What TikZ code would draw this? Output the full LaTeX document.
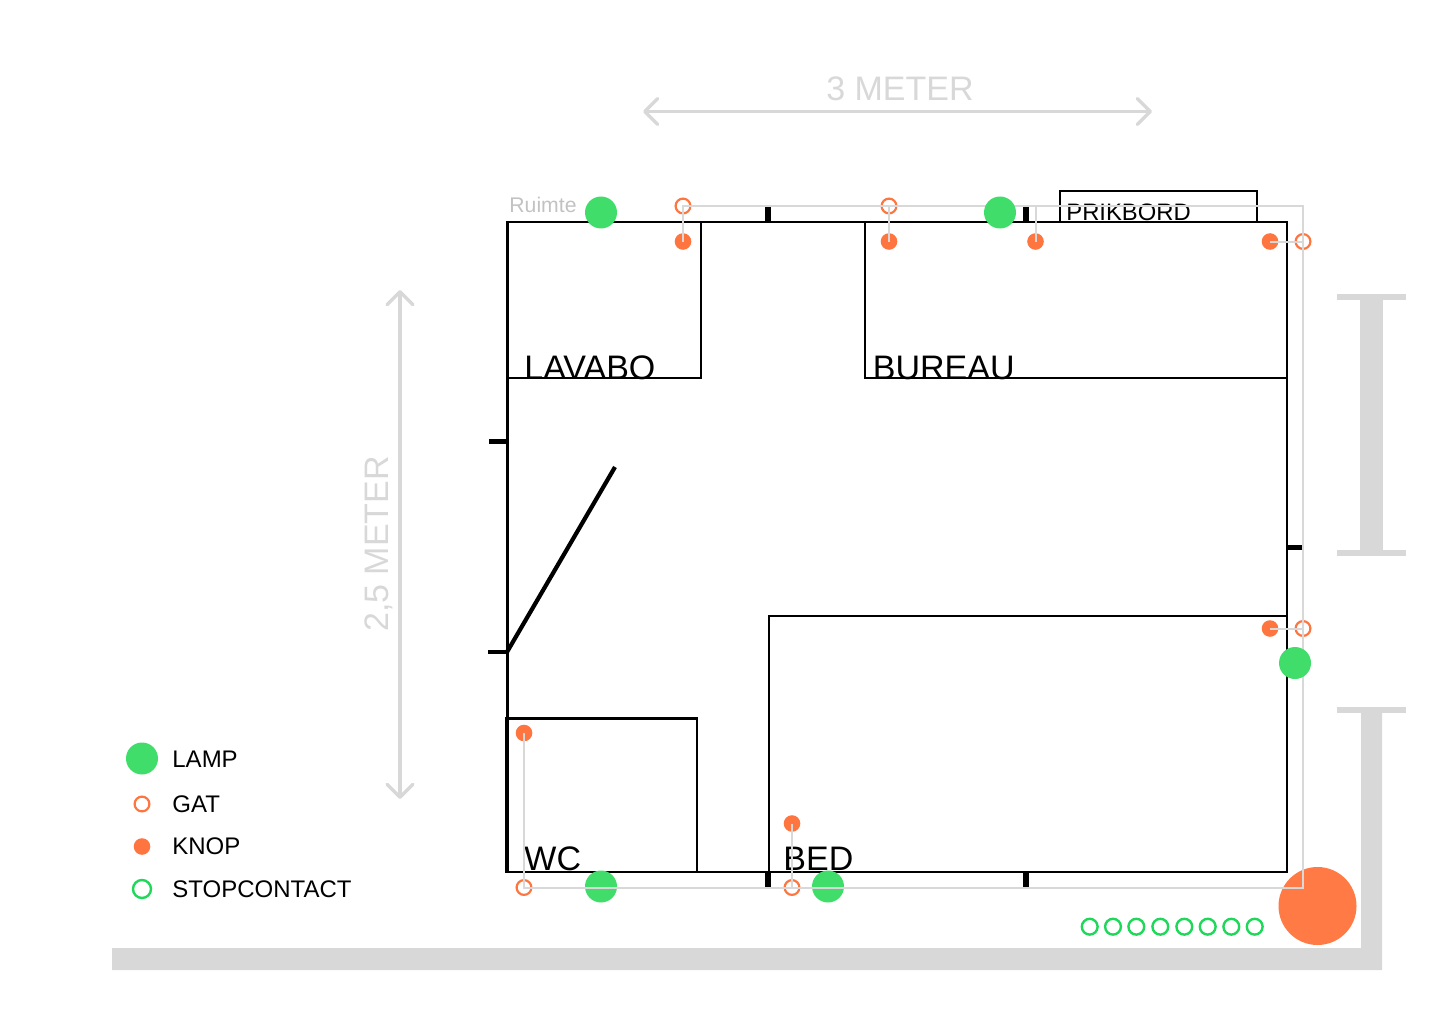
\documentclass[tikz,border=0pt]{standalone}
\usepackage{fontspec}
\setmainfont{Liberation Sans}
\usetikzlibrary{arrows.meta}
\definecolor{lampgreen}{HTML}{41DD6A}
\definecolor{ringgreen}{HTML}{1FD85A}
\definecolor{knoporange}{HTML}{FF7540}
\definecolor{bigorange}{HTML}{FF7A45}
\definecolor{wiregray}{HTML}{D8D8D8}
\tikzset{
  wall/.style={line width=1.4pt},
  stub/.style={line width=2.9pt},
  wire/.style={wiregray,line width=1pt},
  measure/.style={wiregray,line width=1.7pt,line cap=round,{Straight Barb[length=6.5pt,width=13pt,round]}-{Straight Barb[length=6.5pt,width=13pt,round]}},
  lamp/.style={circle,fill=lampgreen,inner sep=0pt,minimum size=16pt},
  gat/.style={circle,draw=knoporange,line width=1.1pt,fill=none,inner sep=0pt,minimum size=7.4pt},
  knop/.style={circle,fill=knoporange,inner sep=0pt,minimum size=8.3pt},
  stopc/.style={circle,draw=ringgreen,line width=1.2pt,inner sep=0pt,minimum size=7.9pt},
  room/.style={inner sep=0pt,anchor=base west,font=\fontsize{17}{20}\selectfont},
  small/.style={inner sep=0pt,anchor=base west,font=\fontsize{12}{14}\selectfont},
  size/.style={inner sep=0pt,wiregray,font=\fontsize{17}{20}\selectfont}
}
\begin{document}
\begin{tikzpicture}[x=0.5pt,y=-0.5pt]
  \useasboundingbox (0,0) rectangle (1438,1016);
  % kader
  \fill [wiregray] (1337,294) rectangle (1406,300);
  \fill [wiregray] (1337,550) rectangle (1406,556);
  \fill [wiregray] (1360,300) rectangle (1383,550);
  \fill [wiregray] (1337,707) rectangle (1406,713);
  \fill [wiregray] (1361,713) -- (1382,713) -- (1382,970) -- (112,970) -- (112,948) -- (1361,948) -- cycle;
  % maten
  \node [size] (drie) at (900,89) {3 METER};
  \draw [measure] (643,111.5) -- (1152,111.5);
  \node [size,rotate=90] (tweehalf) at (379,544) {2,5 METER};
  \draw [measure] (400,290) -- (400,799);
  % muren
  \draw [wall] (507.5,222) rectangle (1287,872);
  \draw [wall] (507.5,378) -- (701,378) -- (701,222);
  \draw [wall] (865,222) -- (865,378) -- (1287,378);
  \draw [wall] (769,872) -- (769,616) -- (1287,616);
  \draw [wall] (506,718.5) rectangle (697,872);
  \draw [wall] (1060,222) -- (1060,191) -- (1257,191) -- (1257,222);
  \draw [line width=2.1pt] (507,652) -- (615,467);
  % stukjes muur
  \draw [stub] (768,207) -- (768,222);
  \draw [stub] (1026,207) -- (1026,222);
  \draw [stub] (768,872) -- (768,887);
  \draw [stub] (1026,872) -- (1026,887);
  \draw [line width=2.3pt] (489,441.5) -- (507,441.5);
  \draw [line width=2.3pt] (488,652) -- (507,652);
  \draw [line width=2.3pt] (1287,547.5) -- (1303,547.5);
  % namen
  \node [room] (lavabo) at (524,379) {LAVABO};
  \node [room] (bureau) at (872.5,379) {BUREAU};
  \node [room] (wc) at (524,870) {WC};
  \node [room] (bed) at (783,870) {BED};
  \node [small,font=\fontsize{11.9}{14}\selectfont] (prikbord) at (1066,220.5) {PRIKBORD};
  \node [small,wiregray!90!black,font=\fontsize{10.6}{13}\selectfont] (ruimte) at (509,213) {Ruimte};
  % groepen
  \node [circle,fill=bigorange,inner sep=0pt,minimum size=39pt] (kast) at (1317.5,906) {};
  \node [stopc] (stopa) at (1089.7,926.7) {};
  \node [stopc] (stopb) at (1113,926.7) {};
  \node [stopc] (stopc) at (1136.3,926.7) {};
  \node [stopc] (stopd) at (1160.3,926.7) {};
  \node [stopc] (stope) at (1184.3,926.7) {};
  \node [stopc] (stopf) at (1207.7,926.7) {};
  \node [stopc] (stopg) at (1231.3,926.7) {};
  \node [stopc] (stoph) at (1254.7,926.7) {};
  % lampen
  \node [lamp] (lampa) at (601,212.5) {};
  \node [lamp] (lampd) at (601,886.5) {};
  \node [lamp] (lampe) at (828,886.5) {};
  % gaten en knoppen
  \node [gat] (gata) at (683,206) {};
  \node [gat] (gatb) at (889,206) {};
  \node [gat] (gatc) at (1303,241.5) {};
  \node [gat] (gatd) at (1303,628.5) {};
  \node [gat] (gate) at (524,887.5) {};
  \node [gat] (gatf) at (792,887.5) {};
  \node [knop] (knopa) at (683,241.5) {};
  \node [knop] (knopb) at (889,241.5) {};
  \node [knop] (knopc) at (1035.5,241.5) {};
  \node [knop] (knopd) at (1270,241.5) {};
  \node [knop] (knope) at (1270,628.5) {};
  \node [knop] (knopf) at (524,733) {};
  \node [knop] (knopg) at (792,823.5) {};
  % leidingen
  \coordinate (hoeko) at (1303,887.5);
  \coordinate (hoekb) at (1303,206);
  \draw [wire,line join=miter] (knopf.center) -- (gate.center) -- (gatf.center) -- (hoeko) -- (gatd.center) -- (gatc.center) -- (hoekb) -- (gatb.center) -- (gata.center) -- (knopa.center);
  \draw [wire] (knopb.center) -- (gatb.center);
  \draw [wire] (knopc.center) -- (knopc.center |- hoekb);
  \draw [wire] (knopd.center) -- (gatc.center);
  \draw [wire] (knope.center) -- (gatd.center);
  \draw [wire] (knopg.center) -- (gatf.center);
  % deze twee liggen over de leiding
  \node [lamp] (lampb) at (1000,212.5) {};
  \node [lamp] (lampc) at (1295,663) {};
  % legenda
  \node [lamp] (leglamp) at (142,758.5) {};
  \node [gat] (leggat) at (142,804) {};
  \node [knop] (legknop) at (142,846.5) {};
  \node [stopc,minimum size=9pt] (legstop) at (142,889) {};
  \node [small] (txtlamp) at (172,767) {LAMP};
  \node [small] (txtgat) at (172,812) {GAT};
  \node [small] (txtknop) at (172,854.5) {KNOP};
  \node [small] (txtstop) at (172,897) {STOPCONTACT};
\end{tikzpicture}
\end{document}
